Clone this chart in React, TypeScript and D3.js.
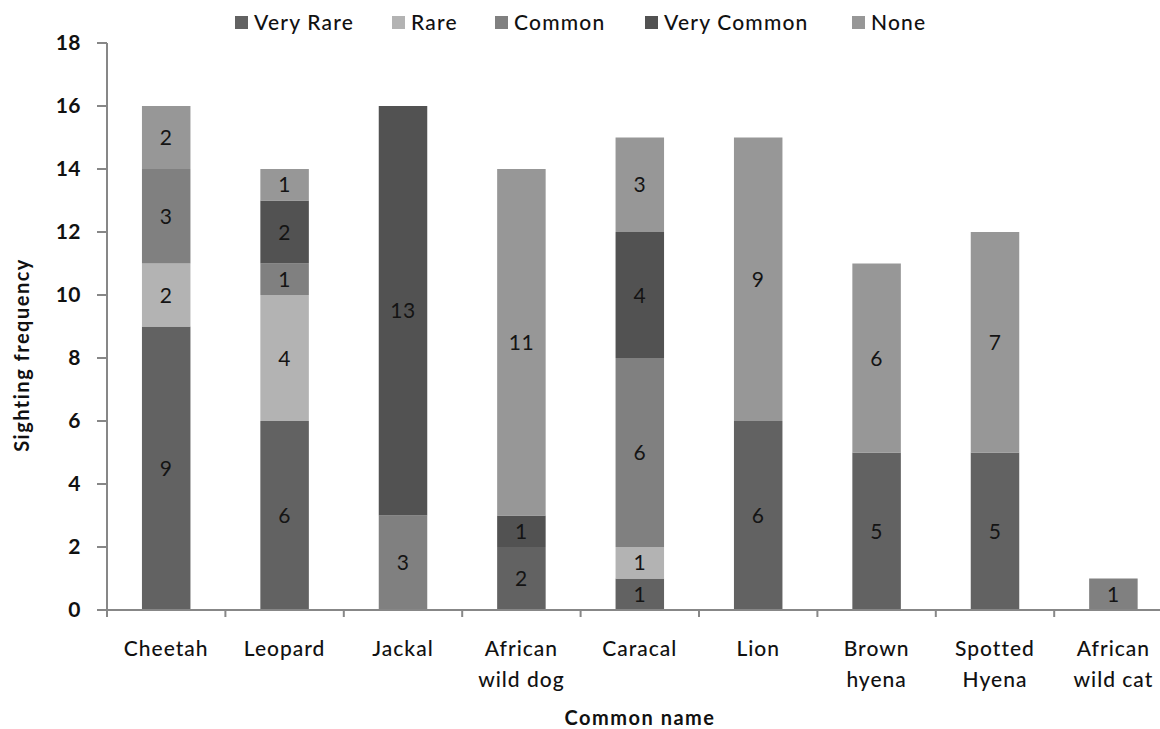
import React from "react";
import * as d3 from "d3";

const categories: string[][] = [
  ["Cheetah"],
  ["Leopard"],
  ["Jackal"],
  ["African", "wild dog"],
  ["Caracal"],
  ["Lion"],
  ["Brown", "hyena"],
  ["Spotted", "Hyena"],
  ["African", "wild cat"],
];
const seriesNames = ["Very Rare", "Rare", "Common", "Very Common", "None"];
const veryRare = [9, 6, 0, 2, 1, 6, 5, 5, 0];
const rare = [2, 4, 0, 0, 1, 0, 0, 0, 0];
const common = [3, 1, 3, 0, 6, 0, 0, 0, 1];
const veryCommon = [0, 2, 13, 1, 4, 0, 0, 0, 0];
const none = [2, 1, 0, 11, 3, 9, 6, 7, 0];
const yTicks = [0, 2, 4, 6, 8, 10, 12, 14, 16, 18];

const colors = ["#626262", "#b3b3b3", "#808080", "#525252", "#979797"];
const legendX = [235, 392, 495, 645, 852];

const W = 1160;
const H = 729;
const FONT = "Lato, 'Open Sans', sans-serif";

export default function App() {
  const seriesValues = [veryRare, rare, common, veryCommon, none];
  const rows = categories.map((c, i) => {
    const r: any = { key: c.join(" ") };
    seriesNames.forEach((s, j) => (r[s] = seriesValues[j][i]));
    return r;
  });
  const stacked = d3.stack<any>().keys(seriesNames)(rows);

  const x0 = 107;
  const band = 118.4;
  const x = d3
    .scaleBand<string>()
    .domain(rows.map((r) => r.key))
    .range([x0, x0 + band * categories.length])
    .paddingInner(0)
    .paddingOuter(0);
  const barW = 48.5;
  const y = d3.scaleLinear().domain([0, 18]).range([610, 43]);
  const axisColor = "#878787";

  return (
    <svg
      width={W}
      height={H}
      style={{ position: "absolute", left: 0, top: 0, background: "#fff" }}
    >
      {/* bars */}
      {stacked.map((s, si) => (
        <g key={s.key}>
          {s.map((d, i) => {
            const v = d[1] - d[0];
            if (v <= 0) return null;
            const cx = (x(rows[i].key) as number) + x.bandwidth() / 2;
            return (
              <g key={i}>
                <rect
                  x={cx - barW / 2}
                  y={y(d[1])}
                  width={barW}
                  height={y(d[0]) - y(d[1])}
                  fill={colors[si]}
                />
                <text
                  x={cx}
                  y={(y(d[0]) + y(d[1])) / 2}
                  dy="0.36em"
                  textAnchor="middle"
                  fontFamily={FONT}
                  fontSize={21}
                  letterSpacing={0.5}
                  fill="#141414"
                >
                  {v}
                </text>
              </g>
            );
          })}
        </g>
      ))}

      {/* y axis */}
      <line x1={x0} x2={x0} y1={y(18)} y2={y(0)} stroke={axisColor} strokeWidth={2} />
      {yTicks.map((t) => (
        <g key={t}>
          <line x1={x0 - 10} x2={x0} y1={y(t)} y2={y(t)} stroke={axisColor} strokeWidth={2} />
          <text
            x={81}
            y={y(t)}
            dy="0.35em"
            textAnchor="end"
            fontFamily={FONT}
            fontWeight="bold"
            fontSize={21}
            letterSpacing={0.5}
            fill="#111"
          >
            {t}
          </text>
        </g>
      ))}

      {/* x axis */}
      <line x1={x0} x2={x0 + band * categories.length} y1={y(0)} y2={y(0)} stroke={axisColor} strokeWidth={2} />
      {d3.range(categories.length + 1).map((i) => (
        <line
          key={i}
          x1={x0 + i * band}
          x2={x0 + i * band}
          y1={y(0)}
          y2={y(0) + 7}
          stroke={axisColor}
          strokeWidth={2}
        />
      ))}
      {rows.map((r, i) => {
        const cx = (x(r.key) as number) + x.bandwidth() / 2;
        return (
          <text
            key={r.key}
            x={cx}
            y={649}
            textAnchor="middle"
            fontFamily={FONT}
            fontSize={21}
            fontWeight={500}
            letterSpacing={1}
            fill="#111"
          >
            {categories[i].map((line, li) => (
              <tspan key={li} x={cx} dy={li === 0 ? "0.35em" : 31}>
                {line}
              </tspan>
            ))}
          </text>
        );
      })}

      {/* axis titles */}
      <text
        x={640}
        y={718}
        dy="0.35em"
        textAnchor="middle"
        fontFamily={FONT}
        fontWeight="bold"
        fontSize={20}
        letterSpacing={1.5}
        fill="#111"
      >
        Common name
      </text>
      <text
        transform={`translate(22,355) rotate(-90)`}
        dy="0.35em"
        textAnchor="middle"
        fontFamily={FONT}
        fontWeight="bold"
        fontSize={20}
        letterSpacing={1.5}
        fill="#111"
      >
        Sighting frequency
      </text>

      {/* legend */}
      {seriesNames.map((s, i) => (
        <g key={s} transform={`translate(${legendX[i]},23)`}>
          <rect x={0} y={-7} width={13} height={13} fill={colors[i]} />
          <text
            x={19}
            y={0}
            dy="0.35em"
            fontFamily={FONT}
            fontSize={21}
            fontWeight={500}
            letterSpacing={1.2}
            fill="#111"
          >
            {s}
          </text>
        </g>
      ))}
    </svg>
  );
}
